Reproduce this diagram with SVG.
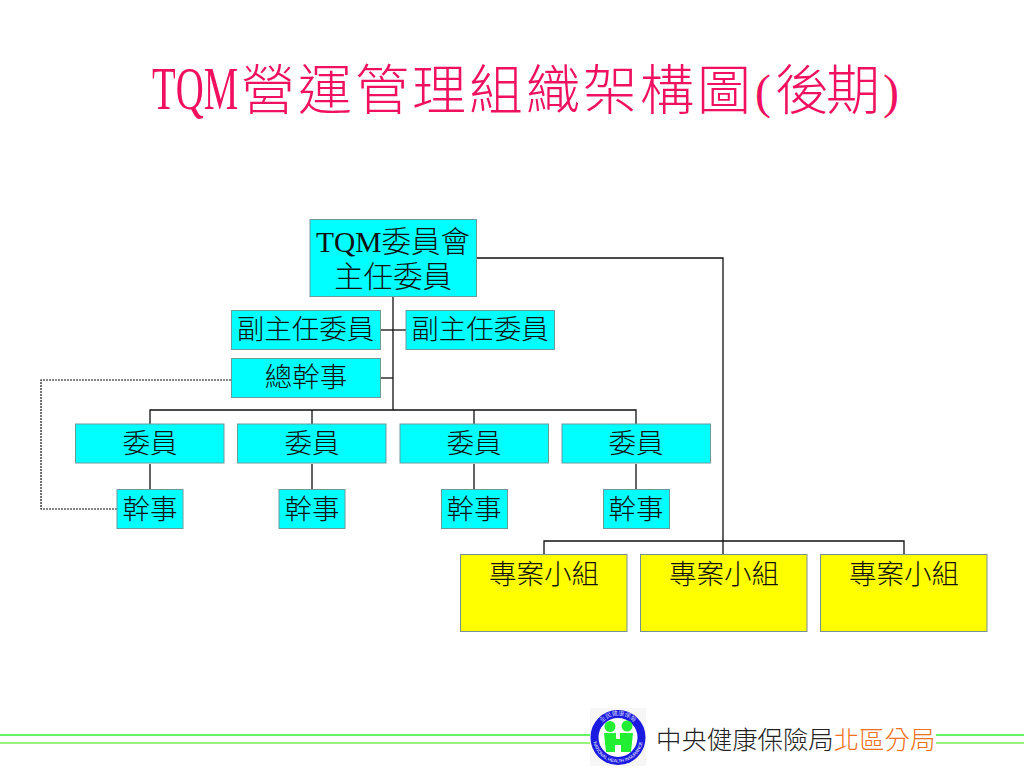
<svg xmlns="http://www.w3.org/2000/svg" width="1024" height="768" viewBox="0 0 1024 768">
<style>
text{font-family:"Liberation Serif","Noto Sans CJK TC",serif;text-anchor:middle;fill:#111;font-weight:300}
.title{font-size:54px;fill:#f0105f;text-anchor:start}
.t{font-size:27.500px}
.c{font-size:29.500px}
.b{fill:#00ffff;stroke:#6a9a9c;stroke-width:1}
.y{fill:#ffff00;stroke:#7a9090;stroke-width:1}
.l{fill:none;stroke:#111;stroke-width:1.300}
.d{fill:none;stroke:#111;stroke-width:1.200;stroke-dasharray:2 1}
</style>
<rect width="1024" height="768" fill="#fff"/>
<g id="title">
<text class="title" transform="translate(152 109) scale(0.625 1)" style="font-size:62px">TQM</text>
<text class="title" x="241 298 355 412 469 526 583 640 697" y="110">營運管理組織架構圖</text>
<text class="title" x="755" y="108" style="font-size:48px">(</text>
<text class="title" x="775 826" y="110">後期</text>
<text class="title" x="883" y="108" style="font-size:48px">)</text>
</g>
<g id="connectors">
<path class="l" d="M477 258H723V555"/>
<path class="l" d="M393 297V410"/>
<path class="l" d="M381 330H406"/>
<path class="l" d="M381 378H393"/>
<path class="l" d="M150 424V410H636V424"/>
<path class="l" d="M312 410V424M474 410V424"/>
<path class="l" d="M150 464V489M312 464V489M474 464V489M636 464V489"/>
<path class="l" d="M544 555V541H904V555"/>
<path class="d" d="M231 380H41V509H117"/>
</g>
<g id="n-chair"><rect class="b" x="310" y="219.500" width="166.500" height="77"/><text class="c" x="393" y="252">TQM委員會</text><text class="c" x="393" y="287">主任委員</text></g>
<g id="n-vice1"><rect class="b" x="231.500" y="310.500" width="149" height="39"/><text class="t" x="305.500" y="339">副主任委員</text></g>
<g id="n-vice2"><rect class="b" x="406" y="310.500" width="148.500" height="39"/><text class="t" x="480" y="339">副主任委員</text></g>
<g id="n-sec"><rect class="b" x="231.500" y="358.500" width="149" height="39"/><text class="t" x="306" y="387">總幹事</text></g>
<g id="n-m1"><rect class="b" x="75.500" y="424" width="148.500" height="39"/><text class="t" x="150" y="453">委員</text></g>
<g id="n-m2"><rect class="b" x="237.500" y="424" width="148.500" height="39"/><text class="t" x="312" y="453">委員</text></g>
<g id="n-m3"><rect class="b" x="400" y="424" width="148.500" height="39"/><text class="t" x="474" y="453">委員</text></g>
<g id="n-m4"><rect class="b" x="562" y="424" width="148.500" height="39"/><text class="t" x="636" y="453">委員</text></g>
<g id="n-s1"><rect class="b" x="117" y="489.500" width="66" height="39"/><text class="t" x="150" y="519">幹事</text></g>
<g id="n-s2"><rect class="b" x="279" y="489.500" width="66" height="39"/><text class="t" x="312" y="519">幹事</text></g>
<g id="n-s3"><rect class="b" x="441.500" y="489.500" width="66" height="39"/><text class="t" x="474" y="519">幹事</text></g>
<g id="n-s4"><rect class="b" x="603.500" y="489.500" width="66" height="39"/><text class="t" x="636" y="519">幹事</text></g>
<g id="n-p1"><rect class="y" x="460.500" y="554.500" width="166.500" height="77"/><text class="t" x="544" y="584">專案小組</text></g>
<g id="n-p2"><rect class="y" x="640.500" y="554.500" width="166.500" height="77"/><text class="t" x="724" y="584">專案小組</text></g>
<g id="n-p3"><rect class="y" x="820.500" y="554.500" width="166.500" height="77"/><text class="t" x="904" y="584">專案小組</text></g>
<g id="footer">
<path d="M0 735H590M936 735H1024" stroke="#33ee33" stroke-width="1.500"/>
<path d="M0 743H590M936 743H1024" stroke="#77ee55" stroke-width="1.500"/>
<rect x="590" y="708" width="56" height="58" fill="#f6f6f6"/>
<circle cx="618" cy="737.500" r="23.500" fill="#fff" stroke="#1a1ae0" stroke-width="8"/>
<defs>
<path id="ringTop" d="M596 737.500A22 22 0 0 1 640 737.500"/>
<path id="ringBot" d="M593 737.500A25 25 0 0 0 643 737.500"/>
</defs>
<text style="font-size:6px;font-family:'Noto Sans CJK TC',sans-serif;fill:#fff"><textPath href="#ringTop" startOffset="50%">全民健康保險</textPath></text>
<text style="font-size:4.500px;font-family:'Liberation Sans',sans-serif;fill:#fff"><textPath href="#ringBot" startOffset="50%">NATIONAL HEALTH INSURANCE</textPath></text>
<circle cx="610" cy="726.500" r="5.500" fill="#22ee33"/><circle cx="627" cy="726" r="5.500" fill="#22ee33"/>
<path d="M604 733H616V739H620V733H633L631 752H621V745H615V752H606Z" fill="#22ee33"/>
<text x="656" y="749" style="font-size:25.400px;font-family:'Noto Sans CJK TC','Liberation Sans',sans-serif;text-anchor:start;fill:#222">中央健康保險局<tspan style="fill:#f07020">北區分局</tspan></text>
</g>
</svg>
